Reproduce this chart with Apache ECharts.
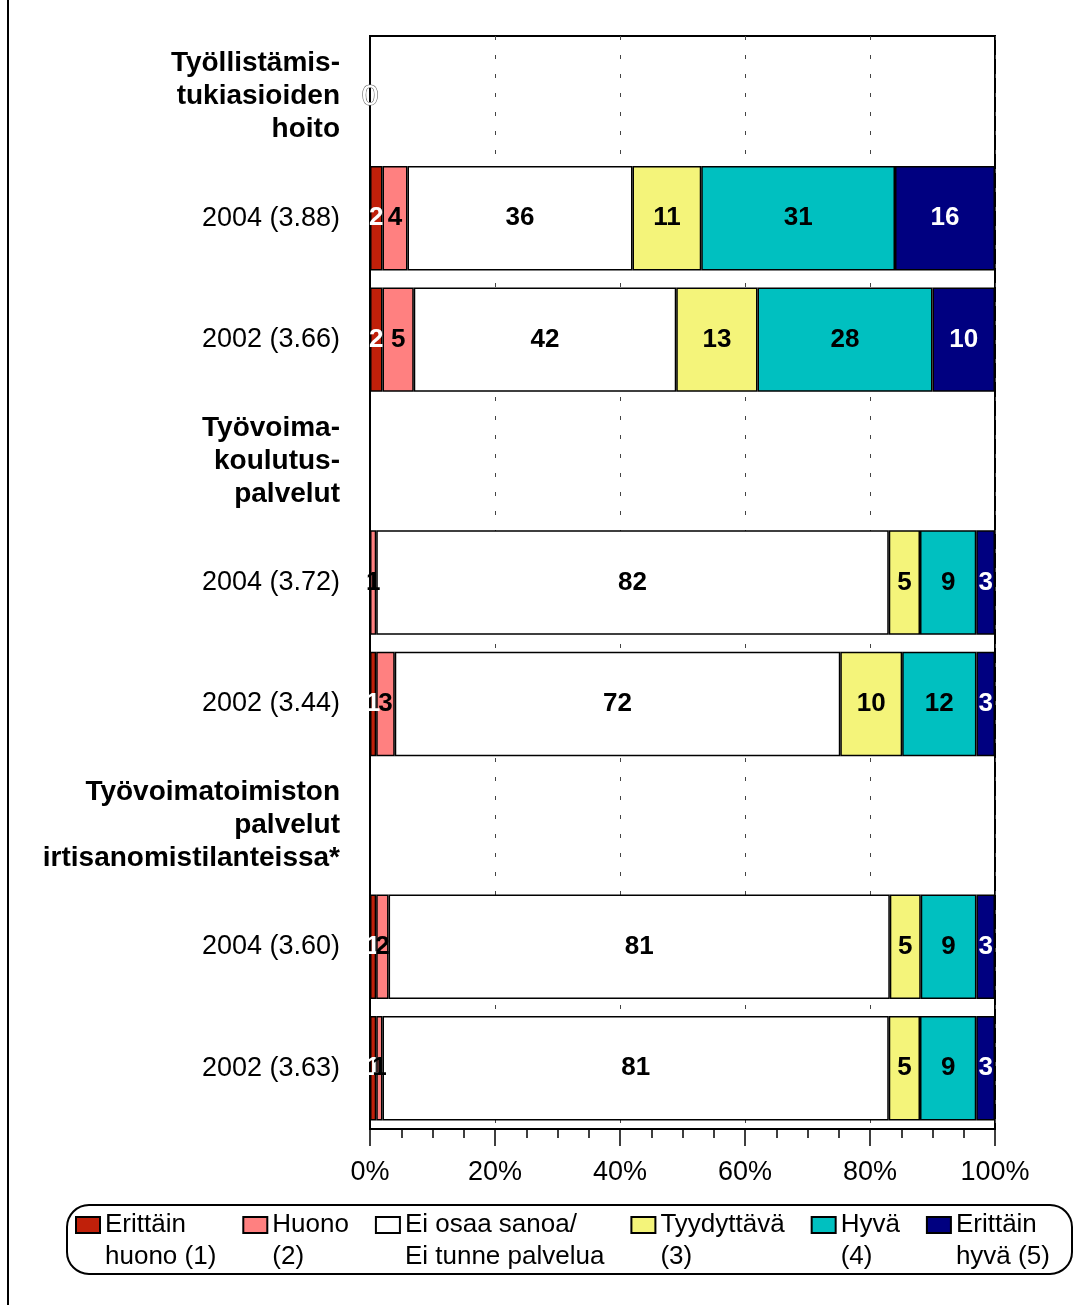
<!DOCTYPE html>
<html>
<head>
<meta charset="utf-8">
<script src="https://cdn.jsdelivr.net/npm/echarts@6/dist/echarts.min.js"></script>
<style>
html, body { margin: 0; padding: 0; background: #fff; }
#chart { width: 1084px; height: 1305px; }
</style>
</head>
<body>
<div id="chart"></div>
<script>
// rows from top to bottom; header rows carry no bars
var categories = [
  'Työllistämis-\ntukiasioiden\nhoito',
  '2004 (3.88)',
  '2002 (3.66)',
  'Työvoima-\nkoulutus-\npalvelut',
  '2004 (3.72)',
  '2002 (3.44)',
  'Työvoimatoimiston\npalvelut\nirtisanomistilanteissa*',
  '2004 (3.60)',
  '2002 (3.63)'
];
var seriesNames = [
  'Erittäin\nhuono (1)',
  'Huono\n(2)',
  'Ei osaa sanoa/\nEi tunne palvelua',
  'Tyydyttävä\n(3)',
  'Hyvä\n(4)',
  'Erittäin\nhyvä (5)'
];
var erittainHuono = [0, 2, 2, null, 0, 1, null, 1, 1];
var huono         = [null, 4, 5, null, 1, 3, null, 2, 1];
var eiOsaaSanoa   = [null, 36, 42, null, 82, 72, null, 81, 81];
var tyydyttava    = [null, 11, 13, null, 5, 10, null, 5, 5];
var hyva          = [null, 31, 28, null, 9, 12, null, 9, 9];
var erittainHyva  = [null, 16, 10, null, 3, 3, null, 3, 3];
var xTicks = [0, 20, 40, 60, 80, 100];

var colors = ['#C0200A', '#FF8080', '#FFFFFF', '#F4F47A', '#00C0C0', '#000080'];
var labelColors = ['#fff', '#000', '#000', '#000', '#000', '#fff'];
var font = 'Liberation Sans';

var rows = [erittainHuono, huono, eiOsaaSanoa, tyydyttava, hyva, erittainHyva];

// 100 % stacking: each row is scaled by its own total
var totals = categories.map(function (c, i) {
  var s = 0;
  rows.forEach(function (r) { if (r[i] != null) s += r[i]; });
  return s;
});

var series = rows.map(function (vals, k) {
  return {
    name: seriesNames[k],
    type: 'bar',
    stack: 'total',
    barCategoryGap: '14%',
    itemStyle: { color: colors[k], borderColor: '#000', borderWidth: 1.5 },
    label: {
      show: true,
      position: 'inside',
      color: labelColors[k],
      fontFamily: font,
      fontWeight: 'bold',
      fontSize: 26,
      formatter: function (p) { return p.data && p.data.raw > 0 ? String(p.data.raw) : ''; }
    },
    data: vals.map(function (v, i) {
      if (v == null) return null;
      var item = { value: totals[i] ? v / totals[i] * 100 : 0, raw: v };
      if (totals[i] === 0) {
        // the empty label Excel left on the first heading row
        item.label = {
          formatter: String(v), color: '#fff', fontWeight: 'normal', fontSize: 30,
          textBorderColor: '#666', textBorderWidth: 1.2
        };
      }
      return item;
    })
  };
});

var chart = echarts.init(document.getElementById('chart'));
chart.setOption({
  animation: false,
  backgroundColor: '#fff',
  grid: {
    left: 370, right: 89, top: 36, bottom: 176,
    show: true, borderColor: '#000', borderWidth: 2, backgroundColor: 'transparent'
  },
  xAxis: {
    type: 'value',
    min: xTicks[0],
    max: xTicks[xTicks.length - 1],
    interval: xTicks[1] - xTicks[0],
    axisLine: { show: true, lineStyle: { color: '#000', width: 2 } },
    axisTick: { show: true, length: 17, lineStyle: { color: '#000', width: 1.5 } },
    minorTick: { show: true, splitNumber: 4, length: 9, lineStyle: { color: '#000', width: 1.5 } },
    splitLine: { show: true, lineStyle: { color: '#444', type: [4, 15], width: 1 } },
    axisLabel: { formatter: '{value}%', fontFamily: font, fontSize: 27, color: '#000', margin: 30 }
  },
  yAxis: {
    type: 'category',
    inverse: true,
    data: categories,
    axisLine: { lineStyle: { color: '#000', width: 2 } },
    axisTick: { show: false },
    axisLabel: {
      margin: 30,
      interval: 0,
      formatter: function (v) {
        if (v.indexOf('(') >= 0) return '{y|' + v + '}';
        return v.split('\n').map(function (l) { return '{h|' + l + '}'; }).join('\n');
      },
      rich: {
        h: { fontFamily: font, fontWeight: 'bold', fontSize: 28, lineHeight: 33, color: '#000' },
        y: { fontFamily: font, fontSize: 27, color: '#000' }
      }
    }
  },
  legend: {
    left: 75,
    top: 1177,
    padding: 0,
    itemGap: 26,
    itemWidth: 24,
    itemHeight: 16,
    icon: 'rect',
    selectedMode: false,
    // a blank first line keeps the swatch level with the first text line
    formatter: function (name) { return ' \n' + name; },
    textStyle: { fontFamily: font, fontSize: 26, lineHeight: 32, color: '#000' },
    data: seriesNames
  },
  graphic: [
    { type: 'line', shape: { x1: 8, y1: 0, x2: 8, y2: 1305 }, style: { stroke: '#000', lineWidth: 2 } },
    { type: 'rect', shape: { x: 67, y: 1205, width: 1005, height: 69, r: 22 },
      style: { fill: 'none', stroke: '#000', lineWidth: 2 }, z: -1 }
  ],
  series: series
});
</script>
</body>
</html>
